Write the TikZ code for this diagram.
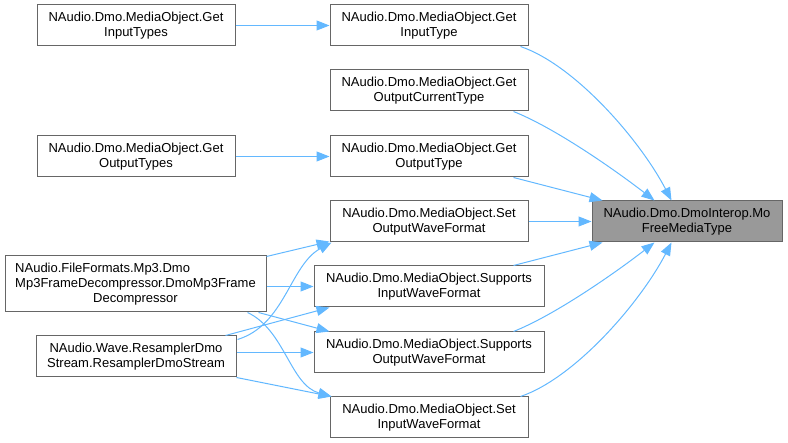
\documentclass[tikz,border=0pt]{standalone}
\usepackage{fontspec}
\setmainfont{Liberation Sans}
\usetikzlibrary{arrows.meta,calc}
\definecolor{edgeblue}{HTML}{63B8FF}
\definecolor{boxgray}{HTML}{666666}
\definecolor{targetfill}{HTML}{999999}
\begin{document}
\begin{tikzpicture}[x=1pt,y=-1pt,
 box/.style={draw=boxgray,line width=1pt,fill=white,align=center,inner sep=0pt,
   font=\fontsize{13}{14.7}\selectfont,minimum height=41pt},
 target/.style={box,fill=targetfill},
 edge/.style={draw=edgeblue,line width=1pt,-{Triangle[length=13pt,width=10pt]}}]
\useasboundingbox (0,0) rectangle (788,443);
% left column
\node[box,minimum width=198pt] (A1) at (136,25.5) {NAudio.Dmo.MediaObject.Get\\InputTypes};
\node[box,minimum width=198pt] (A2) at (136,156.5) {NAudio.Dmo.MediaObject.Get\\OutputTypes};
\node[box,minimum width=261pt,minimum height=56pt] (A3) at (135.5,284)
 {\rlap{NAudio.FileFormats.Mp3.Dmo}\phantom{Mp3FrameDecompressor.DmoMp3Frame}\\Mp3FrameDecompressor.DmoMp3Frame\\Decompressor};
\node[box,minimum width=200pt] (A4) at (136,356.5) {NAudio.Wave.ResamplerDmo\\Stream.ResamplerDmoStream};
% middle column
\node[box,minimum width=198pt] (B1) at (429,25.5) {NAudio.Dmo.MediaObject.Get\\InputType};
\node[box,minimum width=198pt] (B2) at (429,90.5) {NAudio.Dmo.MediaObject.Get\\OutputCurrentType};
\node[box,minimum width=198pt] (B3) at (429,156.5) {NAudio.Dmo.MediaObject.Get\\OutputType};
\node[box,minimum width=198pt] (B4) at (429,221.5) {NAudio.Dmo.MediaObject.Set\\OutputWaveFormat};
\node[box,minimum width=230pt] (B5) at (429,286.5) {NAudio.Dmo.MediaObject.Supports\\InputWaveFormat};
\node[box,minimum width=230pt] (B6) at (429,352.5) {NAudio.Dmo.MediaObject.Supports\\OutputWaveFormat};
\node[box,minimum width=198pt] (B7) at (429,417.5) {NAudio.Dmo.MediaObject.Set\\InputWaveFormat};
% target
\node[target,minimum width=190pt] (T) at (687,221.5) {NAudio.Dmo.DmoInterop.Mo\\FreeMediaType};
% edges into target
\draw[edge] ($(B1.south east)+(-8,0)$) .. controls (575,65) and (640,140) .. ($(T.north west)+(80,0)$);
\draw[edge] ($(B2.south east)+(-15,0)$) .. controls (555,128) and (615,170) .. ($(T.north west)+(63,0)$);
\draw[edge] ($(B3.south east)+(-15,0)$) -- ($(T.north west)+(11,0)$);
\draw[edge] (B4) -- (T);
\draw[edge] ($(B5.north east)+(-31,0)$) -- ($(T.south west)+(11,0)$);
\draw[edge] ($(B6.north east)+(-31,0)$) .. controls (555,315) and (615,273) .. ($(T.south west)+(63,0)$);
\draw[edge] ($(B7.north east)+(-8,0)$) .. controls (575,378) and (640,303) .. ($(T.south west)+(80,0)$);
% edges from left column
\draw[edge] (A1) -- (B1);
\draw[edge] (A2) -- (B3);
\draw[edge] ($(A3.north east)+(0,1)$) -- ($(B4.south west)+(0,-1)$);
\draw[edge] ($(A4.north east)+(1,4)$) .. controls (285,325) and (290,265) .. ($(B4.south west)+(2,0)$);
\draw[edge] (A3.east |- B5.west) -- (B5.west);
\draw[edge] ($(A4.north east)+(-11,0)$) -- ($(B5.south west)+(16,0)$);
\draw[edge] ($(A3.south east)+(-8,0)$) -- ($(B6.north west)+(16,0)$);
\draw[edge] ($(A3.south east)+(-19,0)$) .. controls (285,330) and (290,385) .. ($(B7.north west)+(2,0)$);
\draw[edge] (A4.east |- B6.west) -- (B6.west);
\draw[edge] (A4.south east) -- ($(B7.north west)+(2,0)$);
\end{tikzpicture}
\end{document}
